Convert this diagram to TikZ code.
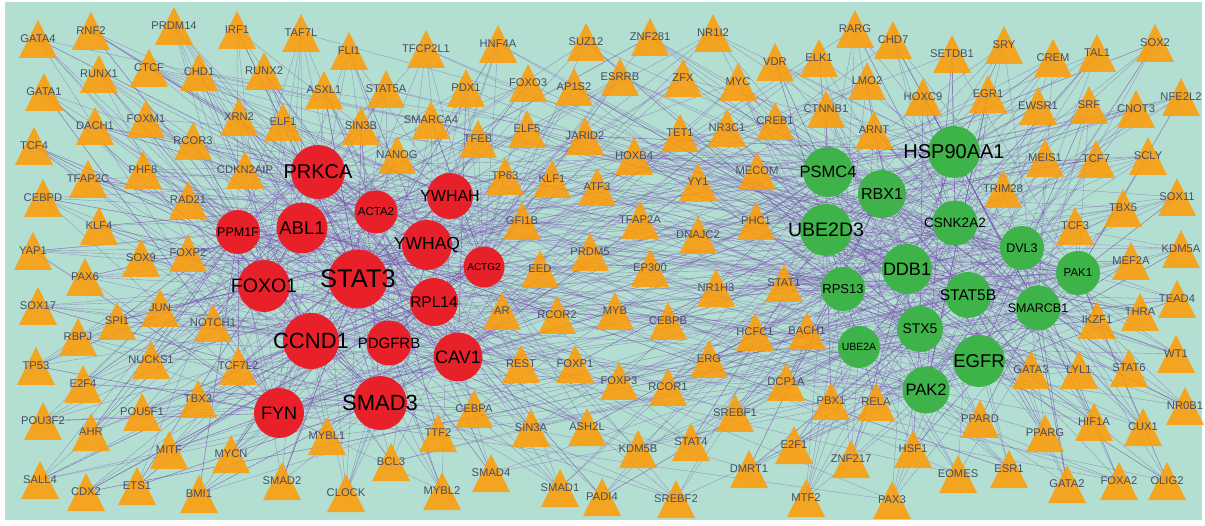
\documentclass[tikz,border=0pt]{standalone}
\usepackage{fontspec}
\setmainfont{Liberation Sans}
\pgfdeclarelayer{bg}
\pgfdeclarelayer{edgelayer}
\pgfsetlayers{bg,edgelayer,main}
\definecolor{panel}{HTML}{B2DFD2}
\definecolor{tforange}{HTML}{FF9C04}
\definecolor{genered}{HTML}{E8202A}
\definecolor{genegreen}{HTML}{3DB349}
\definecolor{tftext}{HTML}{484D60}
\definecolor{linkpurple}{HTML}{7A4FB0}

\tikzset{
  tflabel/.style={font=\fontsize{11.2}{12}\selectfont, text=tftext, inner sep=0pt},
  tri/.style={fill=tforange, fill opacity=0.85},
  gene/.style={circle, inner sep=0pt, minimum size=#1},
  link/.style={linkpurple, opacity=0.5, line width=0.4pt},
}

% transcription factors: name/x/y
\newcommand\tflist{GATA4/38/39, RNF2/91/31, PRDM14/174/26, IRF1/237/30, TAF7L/301/33,
  FLI1/349/51, TFCP2L1/426/49, HNF4A/498/44, SUZ12/586/42, ZNF281/650/37, NR1I2/713/33,
  RARG/855/29, CHD7/893/40, VDR/775/62, ELK1/819/58, SETDB1/952/54, SRY/1004/45,
  CREM/1053/58, TAL1/1097/53, SOX2/1155/43, RUNX1/99/74, CTCF/149/68, CHD1/199/72,
  RUNX2/264/71, GATA1/44/92, ASXL1/324/90, STAT5A/386/89, PDX1/466/88, FOXO3/528/83,
  AP1S2/574/87, ESRRB/620/77, ZFX/683/78, MYC/738/82, LMO2/867/81, HOXC9/923/97,
  EGR1/988/94, EWSR1/1038/106, SRF/1089/105, CNOT3/1136/109, NFE2L2/1181/97,
  DACH1/95/126, FOXM1/146/119, XRN2/239/117, ELF1/283/122, RCOR3/193/141, TCF4/34/146,
  SIN3B/361/126, SMARCA4/431/120, ELF5/527/129, TFEB/478/139, JARID2/585/136,
  CTNNB1/826/109, CREB1/775/121, NR3C1/727/128, TET1/680/133, ARNT/874/130,
  HOXB4/634/156, MECOM/757/171, MEIS1/1045/158, TCF7/1096/159, SCLY/1148/156,
  PHF8/143/170, CDKN2AIP/245/170, NANOG/397/155, TP63/505/176, KLF1/552/179,
  ATF3/597/187, YY1/698/182, TFAP2C/88/179, CEBPD/43/198, RAD21/188/200,
  TRIM28/1003/189, SOX11/1177/197, TBX5/1123/208, KLF4/99/226, GFI1B/522/221,
  TFAP2A/640/220, PHC1/756/221, DNAJC2/698/235, TCF3/1075/226, KDM5A/1181/249,
  YAP1/33/251, FOXP2/188/253, SOX9/141/258, PRDM5/590/252, MEF2A/1131/261,
  PAX6/85/277, EED/540/269, EP300/650/268, NR1H3/716/288, STAT1/784/283,
  TEAD4/1177/299, SOX17/38/306, JUN/160/308, SPI1/117/321, NOTCH1/213/323,
  AR/502/311, RCOR2/557/315, MYB/615/311, CEBPB/668/321, THRA/1140/312,
  IKZF1/1097/320, RBPJ/78/337, HCFC1/755/332, BACH1/807/331, WT1/1176/354,
  TP53/36/366, NUCKS1/151/360, TCF7L2/238/366, REST/521/364, FOXP1/575/364,
  ERG/709/359, GATA3/1031/370, LYL1/1079/370, STAT6/1129/368, E2F4/83/384,
  FOXP3/619/381, RCOR1/668/387, DCP1A/786/382, TBX3/198/399, PBX1/831/401,
  RELA/876/402, NR0B1/1185/406, POU5F1/142/412, CEBPA/474/409, SREBF1/735/413,
  PPARD/980/419, POU3F2/43/421, HIF1A/1094/422, SIN3A/531/428, ASH2L/587/427,
  CUX1/1143/427, AHR/91/432, MYBL1/327/436, TTF2/438/433, PPARG/1045/433,
  STAT4/691/442, KDM5B/638/449, E2F1/794/445, HSF1/913/449, MITF/169/450,
  MYCN/231/454, ZNF217/851/459, BCL3/391/462, SMAD4/491/473, DMRT1/749/469,
  EOMES/958/474, ESR1/1009/469, SALL4/40/480, SMAD2/282/481, FOXA2/1119/481,
  OLIG2/1167/481, GATA2/1067/484, ETS1/137/486, SMAD1/560/488, CDX2/86/492,
  CLOCK/346/493, MYBL2/442/491, BMI1/199/494, PADI4/602/497, SREBF2/676/499,
  MTF2/806/498, PAX3/892/500}

% genes: name/x/y/radius/font size
\newcommand\redgenes{PRKCA/318/172/27/20, ABL1/302/228/25.5/18.5, PPM1F/238/232/22/12.5,
  ACTA2/376/212/21.5/11.5, YWHAH/450/196/23/16, YWHAQ/427/245/25/17.5,
  ACTG2/484/267/20.5/10, STAT3/358/279/29.5/25.5, FOXO1/264/286/26/19.5,
  RPL14/434/302/24/15.5, CCND1/311/341/28/22, PDGFRB/389/343/22.5/15,
  CAV1/458/357/24.5/18, SMAD3/380/403/27/22, FYN/279/413/25/18}
\newcommand\greengenes{PSMC4/828/172/25/16.5, HSP90AA1/954/152/26/20, RBX1/882/194/24/16,
  UBE2D3/826/230/26/19.5, CSNK2A2/955/223/22.5/13.5, DDB1/907/269/25/18,
  DVL3/1022/248/22/12.5, PAK1/1078/273/22/11.5, RPS13/843/289/22/13,
  STAT5B/968/295/23/15.5, SMARCB1/1038/308/22.5/12.5, STX5/920/329/23/14,
  UBE2A/859/347/21/10.5, EGFR/979/361/26/18.5, PAK2/926/390/23.5/16.5}
\newcommand\redhubs{"PRKCA","ABL1","PPM1F","ACTA2","YWHAH","YWHAQ","ACTG2","STAT3",
  "FOXO1","RPL14","CCND1","PDGFRB","CAV1","SMAD3","FYN"}
\newcommand\greenhubs{"PSMC4","HSP90AA1","RBX1","UBE2D3","CSNK2A2","DDB1","DVL3","PAK1",
  "RPS13","STAT5B","SMARCB1","STX5","UBE2A","EGFR","PAK2"}

\begin{document}
\begin{tikzpicture}[x=1pt, y=-1pt]
  \useasboundingbox (0,0) rectangle (1205,526);
  \begin{pgfonlayer}{bg}
    \fill[white] (0,0) rectangle (1205,526);
    \fill[panel] (5,2) rectangle (1202,520);
  \end{pgfonlayer}

  % TF triangles
  \foreach \n/\x/\y in \tflist {
    \fill[tri] (\x,\y-19) -- (\x+19,\y+19) -- (\x-19,\y+19) -- cycle;
    \node[tflabel] (\n) at (\x,\y) {\n};
  }

  % gene circles
  \foreach \n/\x/\y/\r/\f in \redgenes
    \node[gene=2*\r, fill=genered, label={[font=\fontsize{\f}{\f}\selectfont]center:\n}] (\n) at (\x,\y) {};
  \foreach \n/\x/\y/\r/\f in \greengenes
    \node[gene=2*\r, fill=genegreen, label={[font=\fontsize{\f}{\f}\selectfont]center:\n}] (\n) at (\x,\y) {};

  % links, left TFs mostly to red genes, right TFs mostly to green
  \pgfmathsetseed{42}
  \begin{pgfonlayer}{edgelayer}
    \foreach \n/\x/\y in \tflist {
      \pgfmathsetmacro\p{max(0.12,min(0.88,(900-\x)/620))}
      \foreach \k in {1,...,7} {
        \pgfmathsetmacro\u{rnd}
        \pgfmathrandominteger\j{0}{14}
        \ifdim\u pt<\p pt
          \pgfmathsetmacro\h{{\redhubs}[\j]}
        \else
          \pgfmathsetmacro\h{{\greenhubs}[\j]}
        \fi
        \draw[link] (\n.center) -- (\h.center);
      }
    }
  \end{pgfonlayer}
\end{tikzpicture}
\end{document}
